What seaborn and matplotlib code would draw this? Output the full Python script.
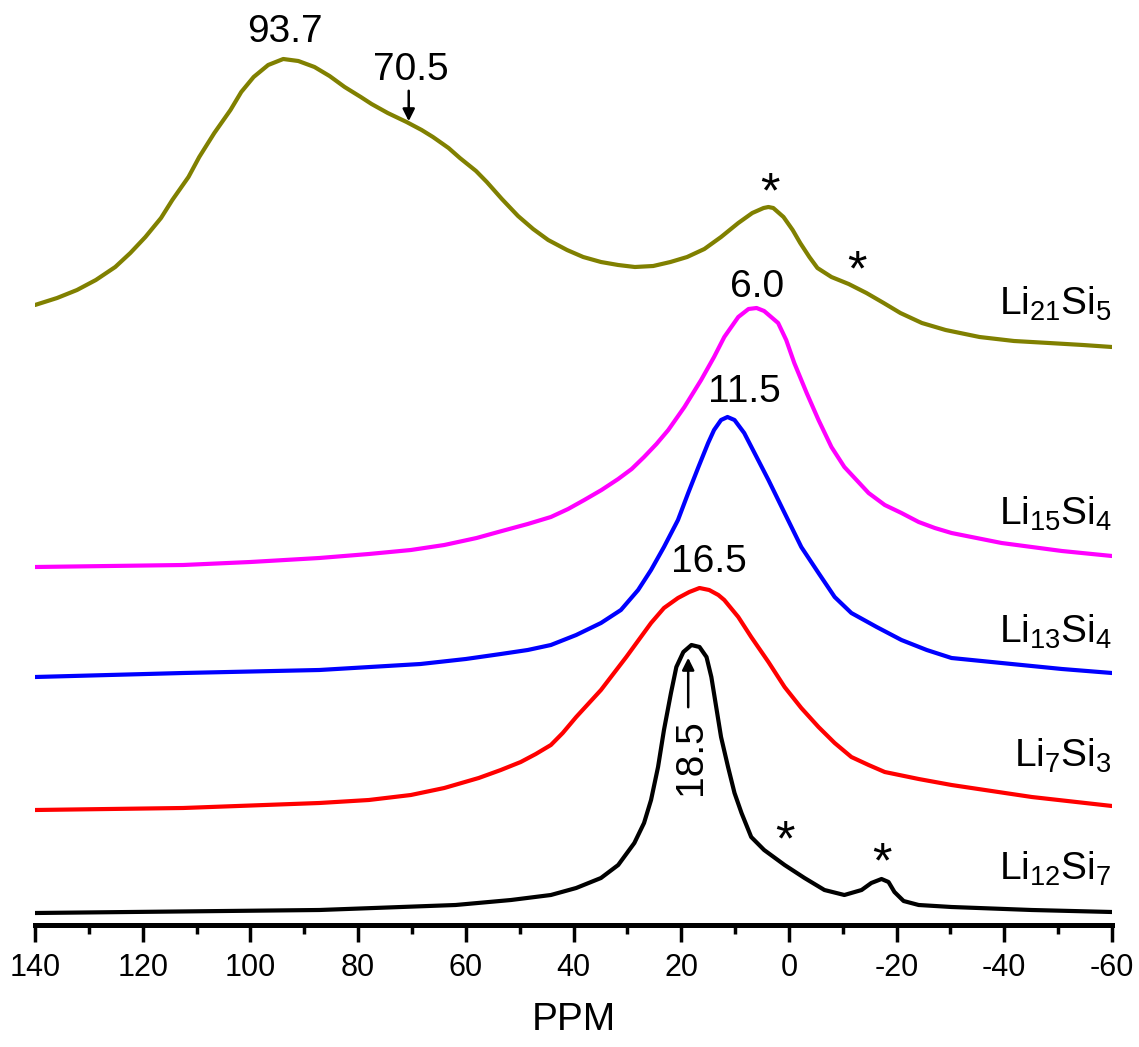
"""
7Li MAS NMR spectra of Li-Si phases (stacked)
"""
import matplotlib
matplotlib.use("Agg")
import matplotlib.pyplot as plt
import numpy as np
import pandas as pd
import seaborn as sns

# ---- data (ppm, intensity a.u. above each baseline) ----
ppm_li21si5 = [140.0, 135.9, 132.2, 128.7, 125.1, 122.3, 119.5, 116.6, 114.5, 111.5,
               109.5, 106.7, 103.7, 101.7, 99.4, 96.7, 93.9, 91.1, 88.1, 85.3,
               82.5, 79.5, 77.5, 74.5, 71.0, 68.2, 66.1, 63.2, 61.1, 58.1,
               56.1, 53.3, 50.3, 47.5, 44.7, 41.2, 38.2, 34.9, 31.7, 28.6,
               25.2, 22.0, 18.9, 15.7, 12.6, 9.4, 6.8, 4.7, 3.8, 2.9,
               1.0, -0.7, -2.1, -3.8, -5.3, -7.9, -11.1, -14.4, -17.6, -20.7,
               -24.7, -29.1, -35.4, -41.8, -48.3, -54.6, -60.0]
int_li21si5 = [42, 49, 57, 67, 80, 94, 110, 129, 147, 170,
               190, 214, 237, 255, 270, 282, 288, 286, 280, 271,
               260, 250, 243, 234, 225, 217, 210, 199, 189, 176,
               165, 148, 131, 118, 107, 97, 90, 85, 82, 80,
               81, 85, 90, 98, 110, 124, 134, 139, 140, 139,
               130, 117, 104, 90, 79, 70, 63, 54, 44, 34,
               24, 17, 10, 6, 4, 2, 0]

ppm_li15si4 = [140.0, 112.5, 100.0, 87.2, 78.0, 70.2, 64.0, 58.0, 53.3, 48.5,
               44.2, 41.0, 38.0, 34.8, 31.7, 29.2, 26.9, 24.6, 22.4, 19.4,
               16.3, 13.9, 12.0, 9.4, 7.5, 6.0, 4.6, 2.0, 0.5, -1.0,
               -3.3, -5.5, -7.9, -10.3, -12.9, -14.8, -17.8, -20.9, -24.1, -27.1,
               -30.2, -39.5, -50.7, -60.0]
int_li15si4 = [0, 2, 5, 9, 13, 17, 22, 29, 36, 43,
               50, 58, 67, 77, 88, 98, 110, 123, 137, 160,
               187, 210, 230, 250, 258, 259, 256, 244, 227, 204,
               174, 147, 120, 100, 85, 74, 62, 54, 45, 39,
               34, 24, 16, 11]

ppm_li13si4 = [140.0, 112.5, 87.2, 68.4, 60.0, 53.5, 48.5, 44.2, 39.5, 34.9,
               31.2, 28.0, 25.6, 23.2, 20.6, 18.7, 16.8, 15.0, 13.9, 12.6,
               11.4, 10.1, 8.3, 6.0, 3.8, 0.8, -2.3, -5.5, -8.5, -11.6,
               -16.3, -20.9, -25.6, -30.2, -39.5, -50.7, -60.0]
int_li13si4 = [0, 4, 7, 13, 18, 23, 27, 32, 42, 54,
               67, 87, 107, 130, 157, 184, 210, 234, 247, 257,
               260, 257, 244, 220, 197, 164, 130, 104, 80, 64,
               50, 37, 27, 19, 14, 8, 4]

ppm_li7si3 = [140.0, 112.5, 87.2, 78.0, 70.2, 64.0, 57.6, 53.5, 49.8, 47.0,
              44.2, 42.0, 39.5, 34.9, 30.2, 25.6, 23.2, 20.6, 18.5, 16.6,
              14.8, 13.1, 12.0, 9.4, 7.0, 3.8, 0.8, -2.3, -5.5, -8.5,
              -11.6, -14.8, -17.8, -24.1, -30.2, -45.1, -60.0]
int_li7si3 = [0, 2, 7, 10, 15, 22, 32, 40, 48, 56,
              65, 77, 93, 120, 153, 187, 202, 212, 218, 222,
              220, 215, 210, 193, 173, 148, 123, 102, 83, 67,
              53, 45, 38, 31, 25, 13, 4]

ppm_li12si7 = [140.0, 87.2, 61.9, 51.6, 44.2, 39.5, 34.9, 31.7, 28.7, 26.9,
               25.6, 24.3, 23.2, 21.9, 20.9, 19.6, 18.1, 16.6, 15.3, 14.4,
               13.5, 12.6, 11.3, 10.1, 8.8, 7.0, 4.6, 0.8, -2.9, -6.6,
               -10.3, -13.5, -15.3, -17.2, -18.5, -19.6, -21.3, -24.1, -30.2, -45.1,
               -60.0]
int_li12si7 = [0, 3, 8, 13, 18, 25, 35, 48, 70, 90,
               113, 146, 183, 220, 246, 261, 268, 266, 256, 236,
               206, 176, 146, 120, 100, 76, 63, 48, 35, 23,
               18, 23, 30, 34, 31, 21, 12, 8, 6, 3,
               1]

names = ["Li21Si5", "Li15Si4", "Li13Si4", "Li7Si3", "Li12Si7"]
labels = [r"Li$_{\mathregular{21}}$Si$_{\mathregular{5}}$",
          r"Li$_{\mathregular{15}}$Si$_{\mathregular{4}}$",
          r"Li$_{\mathregular{13}}$Si$_{\mathregular{4}}$",
          r"Li$_{\mathregular{7}}$Si$_{\mathregular{3}}$",
          r"Li$_{\mathregular{12}}$Si$_{\mathregular{7}}$"]
ppms = [ppm_li21si5, ppm_li15si4, ppm_li13si4, ppm_li7si3, ppm_li12si7]
intensities = [int_li21si5, int_li15si4, int_li13si4, int_li7si3, int_li12si7]
offsets = [578, 358, 248, 115, 12]
colors = ["#808000", "#FF00FF", "#0000FF", "#FF0000", "#000000"]
label_y = [610, 400, 282, 158, 45]

peak_labels = ["93.7", "70.5", "6.0", "11.5", "16.5"]
peak_label_pos = [(93.5, 893), (70.2, 855), (5.9, 638), (8.3, 533), (14.8, 363)]
star_pos = [(3.6, 731), (-12.7, 653), (0.8, 83), (-17.2, 61)]

sns.set_style("ticks")
plt.rcParams["font.family"] = ["Liberation Sans", "DejaVu Sans"]
plt.rcParams["text.color"] = "black"
plt.rcParams["axes.labelcolor"] = "black"
plt.rcParams["xtick.color"] = "black"
plt.rcParams["axes.edgecolor"] = "black"

fig = plt.figure(figsize=(11.39, 10.47), dpi=100)
ax = fig.add_axes([35 / 1139, 122 / 1047, 1077 / 1139, 925 / 1047])

for name, x, y, off, c in zip(names, ppms, intensities, offsets, colors):
    df = pd.DataFrame({"ppm": x, "intensity": np.array(y) + off})
    sns.lineplot(data=df, x="ppm", y="intensity", color=c, lw=3.0,
                 sort=False, estimator=None, ax=ax,
                 solid_joinstyle="round", solid_capstyle="round")

ax.set_xlim(140, -60)
ax.set_ylim(0, 925)

# series labels
for lab, ly in zip(labels, label_y):
    ax.text(-60, ly, lab, fontsize=28, ha="right", va="baseline")

# peak positions
for txt, (px, py) in zip(peak_labels, peak_label_pos):
    ax.text(px, py, txt, fontsize=28, ha="center", va="center")
ax.text(18.1, 168, "18.5", fontsize=28, ha="center", va="center", rotation=90)

arrow = dict(arrowstyle="-|>", color="k", lw=1.8, mutation_scale=18)
ax.annotate("", xy=(70.6, 801), xytext=(70.6, 837), arrowprops=arrow)
ax.annotate("", xy=(18.7, 270), xytext=(18.7, 215), arrowprops=arrow)

for sx, sy in star_pos:
    ax.text(sx, sy, "*", fontsize=36, ha="center", va="center")

# axis styling
sns.despine(ax=ax, left=True, top=True, right=True)
ax.spines["bottom"].set_linewidth(3.6)
ax.set_yticks([])
ax.set_ylabel("")
ax.set_xticks(np.arange(140, -61, -20))
ax.set_xticks(np.arange(130, -60, -20), minor=True)
ax.set_xticklabels([str(v) for v in range(140, -61, -20)])
ax.tick_params(axis="x", which="major", direction="out", length=12, width=2.5,
               labelsize=22, pad=8)
ax.tick_params(axis="x", which="minor", direction="out", length=6.5, width=2.5)
ax.set_xlabel("PPM", fontsize=28, labelpad=14)

fig.savefig("out.png", dpi=100)
